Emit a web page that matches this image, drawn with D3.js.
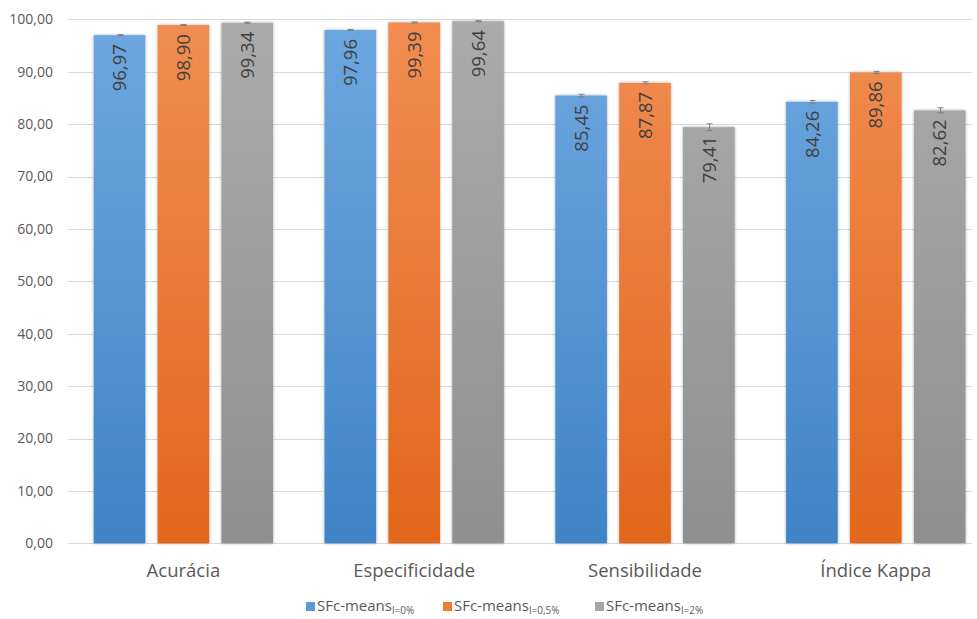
<!DOCTYPE html>
<html><head><meta charset="utf-8">
<script src="https://cdn.jsdelivr.net/npm/d3@7"></script>
<style>body{margin:0;background:#fff;} svg{display:block;font-family:"Open Sans",sans-serif;}</style>
</head><body>
<svg id="c" width="977" height="619"></svg>
<script>
const categories = ["Acurácia","Especificidade","Sensibilidade","Índice Kappa"];
const seriesNames = ["SFc-means", "SFc-means", "SFc-means"];
const seriesSubs = ["l=0%", "l=0,5%", "l=2%"];
const values0 = [96.97, 97.96, 85.45, 84.26];
const values1 = [98.90, 99.39, 87.87, 89.86];
const values2 = [99.34, 99.64, 79.41, 82.62];
const errors0 = [0.1, 0.1, 0.25, 0.25];
const errors1 = [0.1, 0.1, 0.2, 0.2];
const errors2 = [0.1, 0.1, 0.65, 0.48];
const yTicks = [0,10,20,30,40,50,60,70,80,90,100];

(function(){
const seriesValues = [values0, values1, values2];
const seriesErrors = [errors0, errors1, errors2];
const gradTop = ["#6ea7e0", "#f18d52", "#ababab"];
const gradBot = ["#3f84c7", "#e2661b", "#8f8f8f"];
const legendCol = ["#5b9bd5", "#ed7d31", "#a5a5a5"];

const svg = d3.select("#c");
const pLeft = 68, pRight = 991.2, gridRight = 972, pTop = 19.3, pBottom = 543.3;
const y = d3.scaleLinear().domain([0,100]).range([pBottom, pTop]);
const x0 = d3.scaleBand().domain(categories).range([pLeft, pRight]).paddingInner(0).paddingOuter(0);
const x1 = d3.scaleBand().domain([0,1,2]).range([25.7, x0.bandwidth()-25.7]).paddingInner(0.192).paddingOuter(0);

const defs = svg.append("defs");
gradTop.forEach((c,i)=>{
  const g = defs.append("linearGradient").attr("id","g"+i)
    .attr("gradientUnits","userSpaceOnUse").attr("x1",0).attr("x2",0).attr("y1",pTop).attr("y2",pBottom);
  g.append("stop").attr("offset","0%").attr("stop-color",c);
  g.append("stop").attr("offset","100%").attr("stop-color",gradBot[i]);
});
const f = defs.append("filter").attr("id","sh").attr("x","-10%").attr("y","-10%").attr("width","120%").attr("height","120%");
f.append("feGaussianBlur").attr("in","SourceAlpha").attr("stdDeviation",1.5).attr("result","b");
f.append("feComponentTransfer").attr("in","b").attr("result","o2").append("feFuncA").attr("type","linear").attr("slope",0.35);
const fm = f.append("feMerge"); fm.append("feMergeNode").attr("in","o2"); fm.append("feMergeNode").attr("in","SourceGraphic");

// gridlines
svg.append("g").selectAll("line").data(yTicks).join("line")
  .attr("x1",pLeft).attr("x2",gridRight).attr("y1",d=>Math.round(y(d))+0.5).attr("y2",d=>Math.round(y(d))+0.5)
  .attr("stroke","#d9d9d9").attr("stroke-width",1);

// y axis labels
const fmt = d => d3.format(".2f")(d).replace(".", ",");
svg.append("g").selectAll("text").data(yTicks).join("text")
  .attr("x",53).attr("y",d=>y(d)).attr("dy","0.35em").attr("text-anchor","end")
  .attr("font-size",14).attr("fill","#595959").text(fmt);

// bars
const data = [];
categories.forEach((c,ci)=>{ [0,1,2].forEach(si=>{ data.push({c, si, v: seriesValues[si][ci], e: seriesErrors[si][ci]}); }); });
const bx = d => x0(d.c) + x1(d.si);
svg.append("g").selectAll("rect").data(data).join("rect")
  .attr("x",bx).attr("width",x1.bandwidth()).attr("y",d=>y(d.v)).attr("height",d=>y(0)-y(d.v))
  .attr("fill",d=>"url(#g"+d.si+")").attr("filter","url(#sh)");

// error bars
const eg = svg.append("g").attr("stroke","#7f7f7f").attr("stroke-width",1);
data.forEach(d=>{
  const cx = Math.round(bx(d) + x1.bandwidth()/2) + 0.5;
  const y1 = y(d.v + d.e), y2 = y(d.v - d.e);
  eg.append("line").attr("x1",cx).attr("x2",cx).attr("y1",y1).attr("y2",y2);
  eg.append("line").attr("x1",cx-3).attr("x2",cx+3).attr("y1",y1).attr("y2",y1);
  eg.append("line").attr("x1",cx-3).attr("x2",cx+3).attr("y1",y2).attr("y2",y2);
});

// value labels
svg.append("g").selectAll("text").data(data).join("text")
  .attr("transform",d=>`translate(${bx(d)+x1.bandwidth()/2},${y(d.v)+9}) rotate(-90)`)
  .attr("text-anchor","end").attr("dy","0.36em")
  .attr("font-size",18.5).attr("fill","#404040").text(d=>fmt(d.v));

// category labels
svg.append("g").selectAll("text").data(categories).join("text")
  .attr("x",d=>x0(d)+x0.bandwidth()/2).attr("y",577).attr("text-anchor","middle")
  .attr("font-size",18.5).attr("fill","#595959").text(d=>d);

// legend
const legX = [306, 443, 595];
const lg = svg.append("g");
seriesNames.forEach((n,i)=>{
  lg.append("rect").attr("x",legX[i]).attr("y",602).attr("width",9).attr("height",9).attr("fill",legendCol[i]);
  const t = lg.append("text").attr("x",legX[i]+11).attr("y",611).attr("font-size",15).attr("fill","#595959");
  t.append("tspan").text(n);
  t.append("tspan").attr("font-size",10).attr("dy",2.5).text(seriesSubs[i]);
});
})();
</script>
</body></html>
